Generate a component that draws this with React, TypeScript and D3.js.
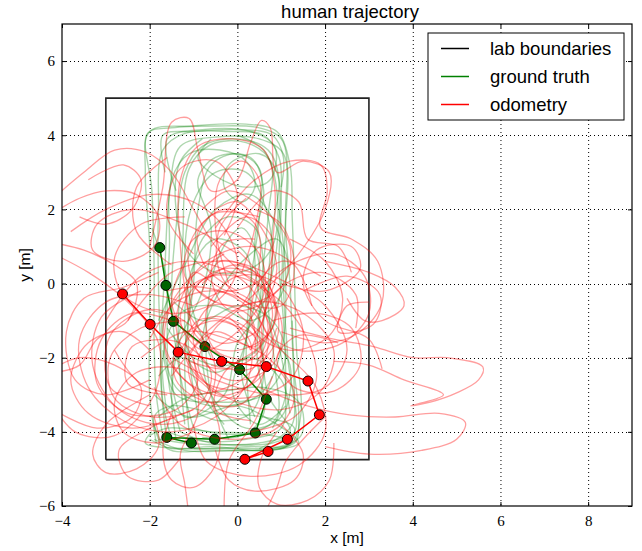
import * as d3 from "d3";
import { useRef, useEffect } from "react";

type Pt = [number, number];

// lab outline (metres)
const labBoundaries: Pt[] = [
  [-3, -4.75], [3, -4.75], [3, 5], [-3, 5], [-3, -4.75],
];

// highlighted samples
const groundTruthSamples: Pt[] = [
  [-1.77, 0.97], [-1.63, -0.05], [-1.46, -1.02], [-0.74, -1.7], [0.05, -2.32],
  [0.66, -3.12], [0.41, -4.03], [-0.52, -4.2], [-1.61, -4.15], [-1.05, -4.3],
];
const odometrySamples: Pt[] = [
  [-2.62, -0.28], [-1.99, -1.1], [-1.35, -1.85], [-0.36, -2.1], [0.66, -2.24],
  [1.61, -2.63], [1.87, -3.54], [1.14, -4.2], [0.17, -4.74], [0.7, -4.53],
];

// full runs, ground truth
const groundTruthRuns: Pt[][] = [
  [[-1.7, -4.1], [-1.85, -3], [-1.9, -1.5], [-1.9, 0.5], [-1.95, 2.5], [-2.05, 4.05], [-1.5, 4.2], [-0.5, 4.25], [0.5, 4.2], [1.0, 3.9], [1.15, 3.0], [1.1, 1.5], [1.2, 0], [1.25, -1.5], [1.3, -3], [1.3, -4.0], [0.8, -4.3], [-0.2, -4.35], [-1.2, -4.3], [-1.8, -4.2]],
  [[-1.5, -4.2], [-1.7, -3.2], [-1.75, -1.8], [-1.8, 0], [-1.8, 2], [-1.7, 3.6], [-1.2, 4.05], [-0.2, 4.1], [0.6, 4.0], [0.95, 3.4], [1.0, 2.2], [0.95, 0.5], [1.05, -1.0], [1.1, -2.8], [1.0, -3.9], [0.2, -4.2], [-0.8, -4.25], [-1.6, -4.0]],
  [[-1.0, -3.9], [-1.3, -2.5], [-1.5, -0.5], [-1.4, 1.5], [-1.2, 3.0], [-0.8, 3.7], [0, 3.9], [0.7, 3.6], [0.95, 2.8], [0.8, 1.5], [0.7, -0.5], [0.85, -2.2], [0.9, -3.6], [0.4, -4.0], [-0.4, -4.05], [-1.0, -3.9]],
  [[-1.3, -4.0], [-1.55, -2.8], [-1.6, -1], [-1.55, 1], [-1.5, 2.8], [-1.1, 3.5], [-0.4, 3.6], [0.2, 3.3], [0.4, 2.6], [0.1, 2.2], [-0.3, 2.6], [-0.2, 3.2], [0.5, 3.5], [0.9, 3.0], [0.9, 1.0], [0.6, -1], [0.7, -3], [1.2, -4.0], [0.5, -4.3], [-0.6, -4.3], [-1.3, -4.0]],
  [[-0.9, -3.5], [-1.1, -2], [-1.1, -0.5], [-0.8, 1.2], [-0.2, 1.8], [0.4, 1.5], [0.6, 0.3], [0.5, -1.2], [0.6, -2.5], [0.3, -3.5], [-0.4, -3.7], [-0.9, -3.5]],
  [[-1.9, -3.8], [-1.6, -4.45], [-0.5, -4.5], [0.8, -4.45], [1.45, -4.1], [1.4, -3.2], [0.6, -2.8], [-0.3, -2.9], [-1.2, -3.1], [-1.8, -3.6]],
  [[-1.6, -3.5], [-1.7, -2], [-1.3, -0.8], [-0.5, -0.6], [0.3, -1], [0.9, -0.5], [1.15, 0.5], [0.9, 1.2], [0.3, 0.8], [-0.4, -0.2], [-0.8, -1.5], [-0.6, -3.0], [0.2, -3.9], [1.0, -3.6], [1.2, -2.2], [0.8, -1.5]],
  [[-1.4, 2.5], [-1.6, 3.9], [-0.8, 4.15], [0.3, 4.1], [0.85, 3.7], [0.75, 2.8], [0.2, 2.6], [-0.5, 2.9], [-0.9, 3.4], [-0.6, 3.9]],
  [[-1.95, -4.0], [-2.1, -4.3], [-1.2, -4.45], [0.2, -4.4], [1.3, -4.3], [1.4, -3.6], [1.3, -2.4], [1.25, -1.0]],
  [[-0.6, -2.0], [-1.0, -0.8], [-1.2, 0.6], [-1.0, 2.2], [-0.5, 3.0], [0.2, 3.0], [0.6, 2.2], [0.8, 0.6], [0.5, -0.8], [0.0, -1.6], [-0.3, -3.0], [-1.2, -3.6], [-1.5, -2.5], [-1.3, -1.2]],
  [[-1.85, -4.3], [-2.0, -3.0], [-2.0, -1.0], [-2.0, 1.0], [-2.1, 3.0], [-2.0, 4.1], [-1.0, 4.25], [0.2, 4.3], [0.9, 4.1], [1.2, 3.2], [1.25, 1.8], [1.3, 0.2], [1.35, -1.8], [1.45, -3.5], [1.2, -4.35], [0.2, -4.45], [-1.0, -4.45]],
  [[-1.4, -4.2], [-1.5, -3.0], [-1.3, -1.5], [-0.8, -0.2], [-0.6, 1.5], [-0.9, 2.8], [-0.5, 3.4], [0.3, 3.4], [0.6, 2.5], [0.4, 1.2], [0.5, -0.3], [0.9, -1.5], [1.1, -3.0], [0.8, -3.9]],
  [[-1.75, -4.35], [-1.9, -3.6], [-1.5, -3.3], [-0.5, -3.5], [0.6, -3.6], [1.3, -3.9], [1.1, -4.4], [0, -4.5], [-1.2, -4.5], [-1.9, -4.2]],
  [[-2.0, -4.1], [-1.6, -3.9], [-0.6, -4.0], [0.5, -4.05], [1.2, -4.2]],
  [[-1.2, -3.8], [-1.35, -1.5], [-1.25, 1.0], [-1.1, 3.1], [-0.6, 3.75], [0.2, 3.8], [0.75, 3.3], [0.7, 1.8], [0.55, 0], [0.45, -2], [0.6, -3.5], [0.1, -4.1], [-0.8, -4.15]],
  [[-1.65, 3.0], [-1.7, 4.0], [-1.0, 4.1], [0, 4.15], [0.8, 4.0], [1.05, 3.4], [1.0, 2.6]],
  [[-0.3, -3.8], [-0.9, -2.8], [-1.2, -1.2], [-1.0, 0.5], [-0.5, 1.2], [0.2, 0.8], [0.3, -0.7], [0.1, -2.5], [0.4, -3.6]],
  [[-1.8, -2.5], [-1.3, -2.0], [-0.5, -2.4], [0.3, -2.0], [1.0, -2.6], [1.2, -3.5]],
  [[-1.95, 1.5], [-1.6, 0.0], [-1.7, -1.5], [-1.4, -2.8], [-0.6, -3.3], [0.5, -3.0], [1.0, -1.8], [1.1, 0.2], [0.95, 2.0]],
  [[-1.45, -0.5], [-0.8, -1.0], [0.0, -0.6], [0.8, -1.0], [1.1, -2.0], [0.6, -3.0], [-0.5, -3.2], [-1.4, -3.0], [-1.7, -1.8]],
  [[-1.1, -4.0], [-1.2, -2.0], [-1.0, 0.0], [-0.9, 2.0], [-0.6, 3.2], [0.0, 3.5], [0.5, 3.1], [0.5, 1.8], [0.3, 0.0], [0.2, -2.0], [0.3, -3.8]],
  [[-1.6, -4.3], [-1.75, -2.5], [-1.65, 0.5], [-1.55, 2.4], [-1.3, 3.7], [-0.5, 3.95], [0.5, 3.9], [1.05, 3.5], [1.1, 2.0], [1.05, 0.0], [1.15, -2.0], [1.25, -3.8], [0.5, -4.45]],
  [[-0.2, -4.2], [-0.6, -3.0], [-0.7, -1.0], [-0.4, 0.8], [0.1, 1.5], [0.5, 0.5], [0.2, -1.5], [-0.1, -3.0], [0.5, -3.8], [1.1, -3.3]],
  [[-1.8, -1.0], [-1.2, 0.5], [-0.5, 2.0], [0.3, 2.4], [0.9, 1.5], [1.0, 0.0], [0.6, -1.6], [-0.2, -2.2], [-1.0, -2.0], [-1.6, -1.2]],
  [[-1.9, -3.0], [-1.1, -3.6], [0.0, -3.3], [0.9, -3.8], [1.4, -4.3], [0.6, -4.5], [-0.6, -4.4], [-1.5, -4.45], [-2.0, -4.2]],
  [[-0.8, 3.9], [-1.3, 3.3], [-1.4, 2.0], [-1.1, 0.8], [-0.5, 0.3], [0.3, 0.4], [0.8, 1.0], [0.9, 2.5], [0.6, 3.6], [0.0, 4.0]],
];

// full runs, odometry
const odometryRuns: Pt[][] = [
  [[-4.2, 2.3], [-3.5, 3.0], [-2.8, 3.6], [-2.1, 3.55], [-1.5, 3.0], [-1.0, 2.0], [-0.5, 1.0], [0.2, 0.2], [1.0, -0.5], [1.6, -1.5], [1.8, -2.6], [1.3, -3.6], [0.3, -4.0]],
  [[-1.0, -0.6], [-2.0, -0.3], [-3.0, -0.5], [-3.6, -1.5], [-3.4, -2.8], [-2.6, -3.7], [-1.5, -4.0], [-0.5, -3.6], [0.2, -2.7], [0.3, -1.6], [-0.2, -0.9]],
  [[-4.2, 0.8], [-3.4, 0.3], [-2.5, -0.5], [-1.8, -1.6], [-1.9, -3.0], [-2.8, -4.1], [-3.7, -4.0], [-4.2, -3.3]],
  [[-4.2, 1.1], [-3.5, 0.9], [-2.8, 0.5], [-2.3, 0.0], [-2.5, -1.0], [-3.2, -1.5], [-3.6, -2.2], [-4.2, -2.4]],
  [[-2.2, -0.2], [-3.1, -0.9], [-3.3, -2.2], [-2.7, -3.4], [-1.7, -3.8], [-0.8, -3.4], [-0.5, -2.3], [-1.0, -1.2], [-2.0, -0.7], [-2.9, -1.4], [-2.9, -2.8], [-2.0, -3.3]],
  [[-3.8, 1.4], [-3.0, 2.0], [-2.0, 2.4], [-1.0, 2.2], [-0.3, 1.5], [0.0, 0.4], [-0.5, -0.5], [-1.6, -0.8], [-2.6, -0.3], [-2.8, 0.7], [-2.2, 1.6], [-1.2, 1.8]],
  [[-1.1, -1.0], [-1.3, 1.0], [-1.3, 2.8], [-0.9, 3.7], [-0.1, 3.9], [0.6, 3.6], [0.85, 2.6], [0.8, 1.0], [0.7, -0.5], [0.3, -1.8]],
  [[-2.0, 1.0], [-1.7, 2.6], [-1.5, 4.35], [-1.1, 4.45], [-0.9, 3.6], [-0.6, 2.5], [0.0, 2.8], [0.3, 3.8], [0.55, 4.4], [0.75, 4.2], [0.9, 3.0], [1.5, 3.3], [2.1, 3.0], [2.0, 2.0], [1.4, 0.8], [0.6, -0.2]],
  [[-0.5, 1.5], [0.3, 2.7], [1.2, 3.3], [1.9, 3.2], [2.05, 2.5], [1.9, 1.5], [2.6, 1.2], [3.2, 0.6], [3.3, -0.5], [2.8, -1.3], [2.0, -1.6], [1.0, -1.3]],
  [[0.2, -0.5], [1.2, 0.5], [2.2, 0.8], [2.9, 0.2], [3.0, -0.8], [2.4, -1.6], [1.4, -1.8], [0.6, -1.2], [0.9, -0.2], [1.9, 0.3], [2.7, -0.3], [2.7, -1.2]],
  [[1.2, -1.2], [2.2, -1.5], [3.1, -1.7], [4.0, -2.0], [4.8, -2.0], [5.6, -2.25], [5.5, -2.6], [5.0, -2.95], [4.4, -3.2], [3.95, -3.3], [4.1, -3.25], [4.7, -3.0], [3.8, -2.6], [3.0, -2.2], [2.2, -2.1]],
  [[0.5, -2.8], [1.6, -3.3], [2.6, -3.55], [3.6, -3.6], [4.6, -3.5], [5.2, -3.75], [5.0, -4.2], [4.2, -4.5], [3.0, -4.6], [2.0, -4.4]],
  [[-1.5, -3.5], [-1.7, -4.5], [-1.5, -5.3], [-1.0, -5.5], [-0.5, -4.9], [-0.4, -4.0], [-0.6, -3.2]],
  [[-1.0, -2.0], [-0.9, -3.5], [-1.3, -4.6], [-1.2, -5.4], [-1.1, -6.3]],
  [[0.8, -2.5], [0.4, -3.7], [-0.2, -4.8], [-0.3, -6.3]],
  [[2.2, -4.3], [2.1, -5.3], [1.6, -5.85], [0.9, -5.95], [0.5, -5.5], [0.55, -4.7], [0.9, -4.0]],
  [[0.57, -6.3], [0.9, -5.5], [1.1, -4.8], [1.5, -4.2], [2.0, -3.6]],
  [[-2.0, -3.0], [-3.0, -3.8], [-3.3, -4.6], [-3.0, -5.1], [-2.3, -5.0], [-1.8, -4.4], [-1.9, -3.6]],
  [[-4.2, -2.3], [-3.6, -2.0], [-2.8, -2.2], [-2.2, -2.8], [-2.4, -3.6], [-3.2, -3.9], [-4.2, -3.4]],
  [[-0.5, -0.5], [-1.2, 0.2], [-1.0, 1.2], [-0.2, 1.4], [0.5, 0.8], [0.6, -0.3], [0.0, -1.3], [-0.8, -1.8], [-1.3, -1.0], [-0.9, 0.0], [0.0, 0.3], [0.8, -0.4], [0.9, -1.5], [0.3, -2.3], [-0.6, -2.2]],
  [[-1.5, -2.5], [-0.6, -1.2], [0.4, -0.5], [1.5, -0.8], [2.2, -1.8], [1.9, -2.9], [1.0, -3.4], [-0.2, -3.1], [-1.0, -2.3], [-1.4, -1.0], [-0.8, 0.5], [0.3, 1.0], [1.3, 0.5], [1.7, -0.6]],
  [[-2.5, -1.0], [-1.5, 0.3], [-0.2, 0.6], [1.0, 0.1], [2.0, -0.6], [2.5, -1.8], [2.0, -2.8], [0.8, -3.0], [-0.5, -2.6], [-1.5, -2.0]],
  [[1.5, -0.2], [2.5, 0.2], [3.25, -0.3], [3.1, -1.1], [2.3, -1.3], [2.5, -0.6], [3.0, -0.5]],
  [[-1.2, -1.0], [-2.2, -1.2], [-2.9, -2.0], [-2.8, -3.1], [-1.9, -3.6], [-0.9, -3.3], [-0.6, -2.4], [-1.3, -1.6], [-2.4, -1.7], [-2.5, -2.7], [-1.6, -3.0]],
  [[-4.2, 1.9], [-3.6, 2.3], [-3.0, 2.5], [-2.3, 2.4], [-1.8, 1.8], [-1.9, 1.0], [-2.6, 0.6], [-3.3, 0.9], [-3.2, 1.6], [-2.4, 2.0], [-1.2, 1.6], [0.0, 0.8]],
  [[-0.8, -3.0], [-1.6, -2.0], [-1.5, -0.6], [-0.6, 0.2], [0.4, 0.0], [1.0, -1.0], [0.8, -2.2], [-0.2, -2.6], [-1.0, -1.6], [-0.6, -0.6], [0.3, -0.9], [0.4, -1.9]],
  [[-0.3, 0.8], [-1.2, 0.0], [-1.7, -1.3], [-1.2, -2.6], [0.0, -3.1], [1.2, -2.6], [1.5, -1.3], [0.9, 0.0], [0.0, 0.2], [-0.7, -0.7], [-0.5, -1.8], [0.5, -2.0], [0.9, -1.2]],
  [[0.5, 1.8], [-0.5, 1.9], [-1.1, 1.0], [-0.9, -0.2], [0.0, -0.6], [1.0, -0.1], [1.2, 1.0], [0.6, 2.0], [-0.2, 2.5], [-0.8, 2.0]],
  [[-2.2, -2.0], [-1.2, -1.3], [-0.2, -1.5], [0.7, -2.0], [1.3, -3.0], [0.9, -3.9], [-0.2, -4.2], [-1.3, -3.8], [-1.9, -2.8]],
  [[-3.0, -1.0], [-2.2, 0.2], [-1.0, 0.6], [0.2, 0.0], [0.7, -1.2], [0.2, -2.5], [-1.0, -3.0], [-2.2, -2.7], [-2.8, -1.8]],
  [[1.2, 1.2], [2.0, 0.6], [2.4, -0.4], [2.1, -1.4], [1.2, -1.8], [0.4, -1.3], [0.4, -0.2], [1.0, 0.6], [1.9, 0.2]],
  [[-1.0, -4.0], [-1.9, -4.3], [-2.6, -4.0], [-2.8, -3.2], [-2.3, -2.4], [-1.3, -2.3], [-0.6, -2.9]],
  [[2.5, -0.4], [2.9, -1.0], [3.3, -1.0], [3.8, -0.6], [3.6, -0.1], [3.0, 0.3], [2.0, 0.6]],
  [[0.2, -1.0], [1.0, -1.8], [1.8, -2.8], [2.0, -4.0], [1.4, -4.9], [0.3, -5.2], [-0.7, -4.8], [-1.0, -3.8]],
  [[-0.5, -4.5], [-0.2, -5.3], [0.4, -5.6], [1.3, -5.3], [1.5, -4.6], [1.0, -3.8]],
  [[-1.8, 0.3], [-2.6, -0.1], [-3.5, -0.4], [-3.9, -1.3], [-3.7, -2.6], [-3.0, -3.0], [-2.0, -2.6]],
  [[0.0, 1.5], [0.8, 2.5], [1.4, 2.2], [1.6, 1.2], [2.3, 1.0], [2.6, 0.3]],
  [[-3.4, 2.8], [-2.6, 3.2], [-2.2, 2.8], [-2.4, 2.0], [-3.0, 1.6], [-3.6, 1.8]],
  [[-1.6, 3.4], [-2.3, 2.6], [-2.3, 1.4], [-1.5, 0.5]],
  [[0.0, -0.2], [-0.7, 0.4], [-0.9, 1.4], [-0.3, 2.0], [0.4, 1.6], [0.5, 0.5], [0.1, -0.6], [-0.5, -1.2], [-0.9, -2.2], [-0.4, -3.0], [0.4, -2.6], [0.5, -1.5], [0.0, -0.8]],
  [[-1.3, -1.8], [-0.6, -0.9], [0.3, -1.3], [0.6, -2.4], [0.0, -3.3], [-0.9, -3.0], [-1.1, -2.0], [-0.5, -1.3], [0.4, -1.7], [0.8, -0.9], [0.4, 0.3], [-0.4, 0.6], [-0.8, -0.2]],
  [[-0.6, 1.0], [0.2, 1.8], [0.8, 1.2], [0.6, 0.2], [-0.2, -0.2], [-1.0, 0.3], [-1.1, -0.8], [-0.4, -1.6], [0.5, -1.2], [0.6, 0.0], [0.0, 0.9]],
  [[-1.6, -0.2], [-0.8, -0.1], [0.1, -0.5], [0.7, -1.5], [0.3, -2.7], [-0.6, -3.2], [-1.4, -2.6], [-1.3, -1.5], [-0.5, -1.0], [0.4, -1.4]],
  [[0.2, 2.3], [-0.4, 1.5], [-0.4, 0.3], [0.2, -0.5], [1.0, -0.6], [1.3, 0.4], [1.0, 1.6], [0.4, 2.0]],
  [[-1.0, -0.6], [-0.2, -0.2], [0.6, -0.8], [0.8, -2.0], [0.2, -2.8], [-0.7, -2.7], [-1.2, -1.9], [-0.9, -1.0], [-0.1, -1.1], [0.3, -1.8]],
  [[-0.3, -2.0], [-1.0, -1.3], [-1.0, -0.2], [-0.3, 0.4], [0.6, 0.1], [0.9, -0.8], [0.5, -1.7], [-0.3, -2.4], [-0.5, -3.4], [0.3, -3.7]],
  [[-2.0, -1.5], [-1.4, -0.5], [-0.5, -0.2], [0.4, -0.7], [0.5, -1.8], [-0.2, -2.3], [-1.1, -2.1]],
  [[0.4, 1.2], [-0.3, 1.1], [-0.6, 0.2], [-0.2, -0.7], [0.6, -0.5], [0.9, 0.4], [0.6, 1.4], [0.0, 2.2], [-0.5, 2.0]],
  [[-1.2, 0.6], [-1.5, -0.5], [-1.0, -1.5], [0.0, -1.8], [0.8, -1.2], [0.7, 0.0], [-0.1, 0.5], [-0.8, 0.0]],
  [[-1.5, -1.0], [-2.4, -0.8], [-3.1, -1.5], [-3.2, -2.7], [-2.5, -3.5], [-1.4, -3.4], [-0.9, -2.6], [-1.2, -1.6]],
  [[-2.0, -1.8], [-2.6, -1.3], [-3.4, -1.6], [-3.8, -2.6], [-3.4, -3.5], [-2.4, -3.9], [-1.4, -3.6]],
  [[-1.0, -3.4], [-2.0, -3.9], [-2.7, -4.5], [-2.5, -5.2], [-1.8, -5.3], [-1.3, -4.7]],
  [[-0.2, 0.0], [-0.5, 1.5], [-0.4, 2.8], [0.1, 3.3], [0.5, 2.8], [0.4, 1.5], [0.1, 0.3]],
  [[-1.0, 0.8], [-1.6, 1.8], [-1.3, 3.1], [-0.5, 3.3], [0.0, 2.4], [-0.3, 1.3]],
  [[0.8, -1.0], [1.8, -0.8], [2.6, -1.2], [2.8, -2.2], [2.2, -2.9], [1.3, -2.8], [0.9, -2.0], [1.4, -1.4], [2.3, -1.6]],
  [[1.0, 0.0], [2.0, -0.2], [2.8, 0.4], [2.6, 1.0], [1.8, 0.9], [1.5, 0.0], [2.0, -1.0], [3.0, -1.5], [3.3, -2.3]],
];

const xTicks = [-4, -2, 0, 2, 4, 6, 8];
const yTicks = [-6, -4, -2, 0, 2, 4, 6];
const legendLabels = ["lab boundaries", "ground truth", "odometry"];
const legendColors = ["#000000", "#008000", "#ff0000"];

export default function App() {
  const ref = useRef<SVGSVGElement | null>(null);
  const width = 642;
  const height = 551;
  const left = 62, right = 632, top = 24, bottom = 506;

  useEffect(() => {
    const svg = d3.select(ref.current);
    svg.selectAll("*").remove();

    const x = d3.scaleLinear().domain([-4, 9]).range([left, right]);
    const y = d3.scaleLinear().domain([-6, 7]).range([bottom, top]);

    svg.append("defs").append("clipPath").attr("id", "plot-clip")
      .append("rect")
      .attr("x", left).attr("y", top)
      .attr("width", right - left).attr("height", bottom - top);

    // dotted grid
    const grid = svg.append("g").attr("stroke", "#000").attr("stroke-width", 1)
      .attr("stroke-dasharray", "1,3");
    grid.selectAll("line.gx").data(xTicks.filter((t) => t > -4)).join("line")
      .attr("x1", (d) => x(d) + 0.5).attr("x2", (d) => x(d) + 0.5)
      .attr("y1", top).attr("y2", bottom);
    grid.selectAll("line.gy").data(yTicks.filter((t) => t > -6)).join("line")
      .attr("y1", (d) => Math.round(y(d)) + 0.5).attr("y2", (d) => Math.round(y(d)) + 0.5)
      .attr("x1", left).attr("x2", right);

    const line = d3.line<Pt>().x((d) => x(d[0])).y((d) => y(d[1]));
    const smooth = d3.line<Pt>().x((d) => x(d[0])).y((d) => y(d[1]))
      .curve(d3.curveCatmullRom.alpha(0.5));

    const plot = svg.append("g").attr("clip-path", "url(#plot-clip)");

    plot.append("path").datum(labBoundaries)
      .attr("d", line).attr("fill", "none")
      .attr("stroke", "#222").attr("stroke-width", 1.6);

    plot.append("g").attr("fill", "none").attr("stroke", "#008000")
      .attr("stroke-opacity", 0.32).attr("stroke-width", 1.4)
      .selectAll("path").data(groundTruthRuns).join("path")
      .attr("d", smooth);

    // highlighted samples
    plot.append("path").datum(groundTruthSamples).attr("d", line)
      .attr("fill", "none").attr("stroke", "#008000").attr("stroke-width", 1.5);
    plot.append("path").datum(odometrySamples).attr("d", line)
      .attr("fill", "none").attr("stroke", "#ff0000").attr("stroke-width", 1.5);
    plot.append("g").selectAll("circle").data(groundTruthSamples).join("circle")
      .attr("cx", (d) => x(d[0])).attr("cy", (d) => y(d[1])).attr("r", 5)
      .attr("fill", "#006400").attr("stroke", "#000").attr("stroke-width", 1);
    plot.append("g").selectAll("circle").data(odometrySamples).join("circle")
      .attr("cx", (d) => x(d[0])).attr("cy", (d) => y(d[1])).attr("r", 5)
      .attr("fill", "#ff0000").attr("stroke", "#000").attr("stroke-width", 1);

    plot.append("g").attr("fill", "none").attr("stroke", "#ff0000")
      .attr("stroke-opacity", 0.38).attr("stroke-width", 1.3)
      .selectAll("path").data(odometryRuns).join("path")
      .attr("d", smooth);

    // axes, ticks pointing inward on all four sides
    const tickFont = (g: d3.Selection<SVGGElement, unknown, null, undefined>) =>
      g.call((g) => g.select(".domain").remove())
        .call((g) => g.selectAll("text").attr("font-family", "Liberation Serif, serif")
          .attr("font-size", 15).attr("fill", "#000"));

    svg.append("g").attr("transform", `translate(0,${bottom})`)
      .call(d3.axisBottom(x).tickValues(xTicks).tickSizeInner(-4).tickSizeOuter(0).tickPadding(9))
      .call(tickFont);
    svg.append("g").attr("transform", `translate(${left},0)`)
      .call(d3.axisLeft(y).tickValues(yTicks).tickSizeInner(-4).tickSizeOuter(0).tickPadding(7))
      .call(tickFont);
    svg.append("g").attr("transform", `translate(0,${top})`)
      .call(d3.axisTop(x).tickValues(xTicks).tickSizeInner(-4).tickSizeOuter(0).tickFormat(() => ""))
      .call(tickFont);
    svg.append("g").attr("transform", `translate(${right},0)`)
      .call(d3.axisRight(y).tickValues(yTicks).tickSizeInner(-4).tickSizeOuter(0).tickFormat(() => ""))
      .call(tickFont);

    svg.append("rect").attr("x", left).attr("y", top)
      .attr("width", right - left).attr("height", bottom - top)
      .attr("fill", "none").attr("stroke", "#000").attr("stroke-width", 1.2);

    const sans = "Liberation Sans, Arial, sans-serif";
    svg.append("text").attr("x", (left + right) / 2 + 3).attr("y", 18)
      .attr("text-anchor", "middle").attr("font-family", sans).attr("font-size", 18.5)
      .text("human trajectory");
    svg.append("text").attr("x", (left + right) / 2).attr("y", 543)
      .attr("text-anchor", "middle").attr("font-family", sans).attr("font-size", 15.5)
      .text("x [m]");
    svg.append("text").attr("transform", `translate(30,${(top + bottom) / 2}) rotate(-90)`)
      .attr("text-anchor", "middle").attr("font-family", sans).attr("font-size", 15.5)
      .text("y [m]");

    // legend
    const legend = svg.append("g").attr("transform", "translate(428,33)");
    legend.append("rect").attr("width", 196).attr("height", 87)
      .attr("fill", "#fff").attr("stroke", "#000").attr("stroke-width", 1);
    const rows = legend.selectAll("g").data(legendLabels).join("g")
      .attr("transform", (_, i) => `translate(0,${15.5 + i * 28})`);
    rows.append("line").attr("x1", 13).attr("x2", 41)
      .attr("stroke", (_, i) => legendColors[i]).attr("stroke-width", 1.5);
    rows.append("text").attr("x", 62).attr("dy", "0.35em")
      .attr("font-family", sans).attr("font-size", 18.5).text((d) => d);

    return () => {
      svg.selectAll("*").remove();
    };
  }, []);

  return (
    <svg
      ref={ref}
      width={width}
      height={height}
      style={{ position: "absolute", left: 0, top: 0, background: "#fff" }}
    />
  );
}
